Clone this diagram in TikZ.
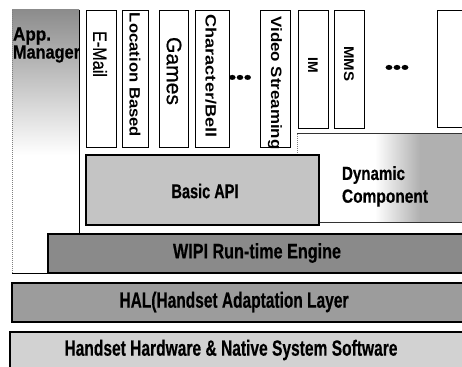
\documentclass[tikz,border=0pt]{standalone}
\usepackage{fontspec}
\setmainfont{Liberation Sans}
\newfontfamily\heavy[BoldFeatures={FakeBold=0.5}]{Liberation Sans}
\newfontfamily\scanreg[FakeBold=0.8]{Liberation Sans}
\usepackage{graphicx}
\newcommand\wfit[2]{\resizebox{#1pt}{\height}{#2}}
\definecolor{wipigray}{HTML}{8A8A8A}
\definecolor{halgray}{HTML}{9C9C9C}
\definecolor{hwgray}{HTML}{D2D2D2}
\definecolor{apigray}{HTML}{C4C4C4}
\definecolor{dyngray}{HTML}{B0B0B0}
\definecolor{amgray}{HTML}{8C8C8C}
\tikzset{
  appbox/.style={draw=black, line width=0.9pt, fill=white},
  layer/.style={draw=black, line width=1.1pt},
  lbl/.style={inner sep=0pt, outer sep=0pt, text=black},
  vlbl/.style={lbl, rotate=-90},
}
\begin{document}
\begin{tikzpicture}[x=1pt, y=-1pt]
\useasboundingbox (0,0) rectangle (462,366);
\clip (0,0) rectangle (462,366);
\fill[white] (0,0) rectangle (462,366);

% App. Manager region
\shade[top color=amgray, bottom color=white] (12,10) rectangle (79,155);
\draw[gray, line width=0.5pt, dash pattern=on 1pt off 1pt] (12,10) -- (12,273);
\draw[black, line width=1pt] (79,10) -- (79,234);
\draw[black, line width=1pt] (12,273) -- (48,273);
\node[lbl, anchor=west] (app) at (13,36) {\fontsize{19}{19}\selectfont\heavy\bfseries\wfit{38}{App.}};
\node[lbl, anchor=west] (mgr) at (13,54) {\fontsize{19}{19}\selectfont\heavy\bfseries\wfit{67}{Manager}};

% Dynamic component region
\fill[white] (297,134) rectangle (462,222);
\shade[left color=white, right color=dyngray] (375,134) rectangle (420,222);
\fill[dyngray] (420,134) rectangle (462,222);
\draw[black!80, line width=1pt] (297,134) -- (462,134);
\draw[black!80, line width=1pt] (297,222) -- (462,222);
\draw[gray, line width=0.5pt, dash pattern=on 1pt off 1pt] (297,134) -- (297,222);
\node[lbl, anchor=west] (dyn) at (342,175) {\fontsize{19}{19}\selectfont\heavy\bfseries\wfit{63}{Dynamic}};
\node[lbl, anchor=west] (comp) at (342,198) {\fontsize{19}{19}\selectfont\heavy\bfseries\wfit{86}{Component}};

% Basic API
\path[layer, fill=apigray] (86,155) rectangle (319,225);
\node[lbl] (api) at (205,191) {\fontsize{20}{20}\selectfont\heavy\bfseries\wfit{67}{Basic API}};

% Application boxes
\path[appbox] (86,10) rectangle (116,147);
\path[appbox] (122,10) rectangle (148,147);
\path[appbox] (159,10) rectangle (188,147);
\path[appbox] (195,10) rectangle (229,147);
\path[appbox] (260,10) rectangle (290,147);
\path[appbox] (298,10) rectangle (328,128);
\path[appbox] (334,10) rectangle (364,128);
\path[appbox] (437,10) rectangle (470,127);

\node[vlbl] (email) at (100,54) {\fontsize{19}{19}\selectfont\scanreg\wfit{46}{E-Mail}};
\node[vlbl] (loc) at (135,75) {\fontsize{15}{15}\selectfont\bfseries\wfit{124}{Location Based}};
\node[vlbl] (games) at (174,71) {\fontsize{21}{21}\selectfont\scanreg\wfit{68}{Games}};
\node[vlbl] (char) at (211,76) {\fontsize{15}{15}\selectfont\bfseries\wfit{123}{Character/Bell}};
\node[lbl] (dots1) at (240,79) {\fontsize{17}{17}\selectfont\heavy\bfseries\wfit{23}{•••}};
\node[vlbl] (video) at (275,83) {\fontsize{15}{15}\selectfont\bfseries\wfit{133}{Video Streaming}};
\node[vlbl] (im) at (313,65) {\fontsize{14}{14}\selectfont\bfseries IM};
\node[vlbl] (mms) at (349,64) {\fontsize{14}{14}\selectfont\bfseries\wfit{35}{MMS}};
\node[lbl] (dots2) at (397,69) {\fontsize{17}{17}\selectfont\heavy\bfseries\wfit{24}{•••}};

% WIPI Run-time Engine
\path[layer, fill=wipigray] (48,234) rectangle (470,273);
\node[lbl] (wipi) at (257,253) {\fontsize{21}{21}\selectfont\heavy\bfseries\wfit{168}{WIPI Run-time Engine}};

% HAL
\path[layer, fill=halgray] (12,283) rectangle (470,322);
\node[lbl] (hal) at (234,302) {\fontsize{22}{22}\selectfont\heavy\bfseries\wfit{229}{HAL(Handset Adaptation Layer}};

% Handset hardware
\path[layer, fill=hwgray] (10,332) rectangle (470,372);
\node[lbl] (hw) at (231,350) {\fontsize{22}{22}\selectfont\heavy\bfseries\wfit{333}{Handset Hardware \& Native System Software}};
\end{tikzpicture}
\end{document}
